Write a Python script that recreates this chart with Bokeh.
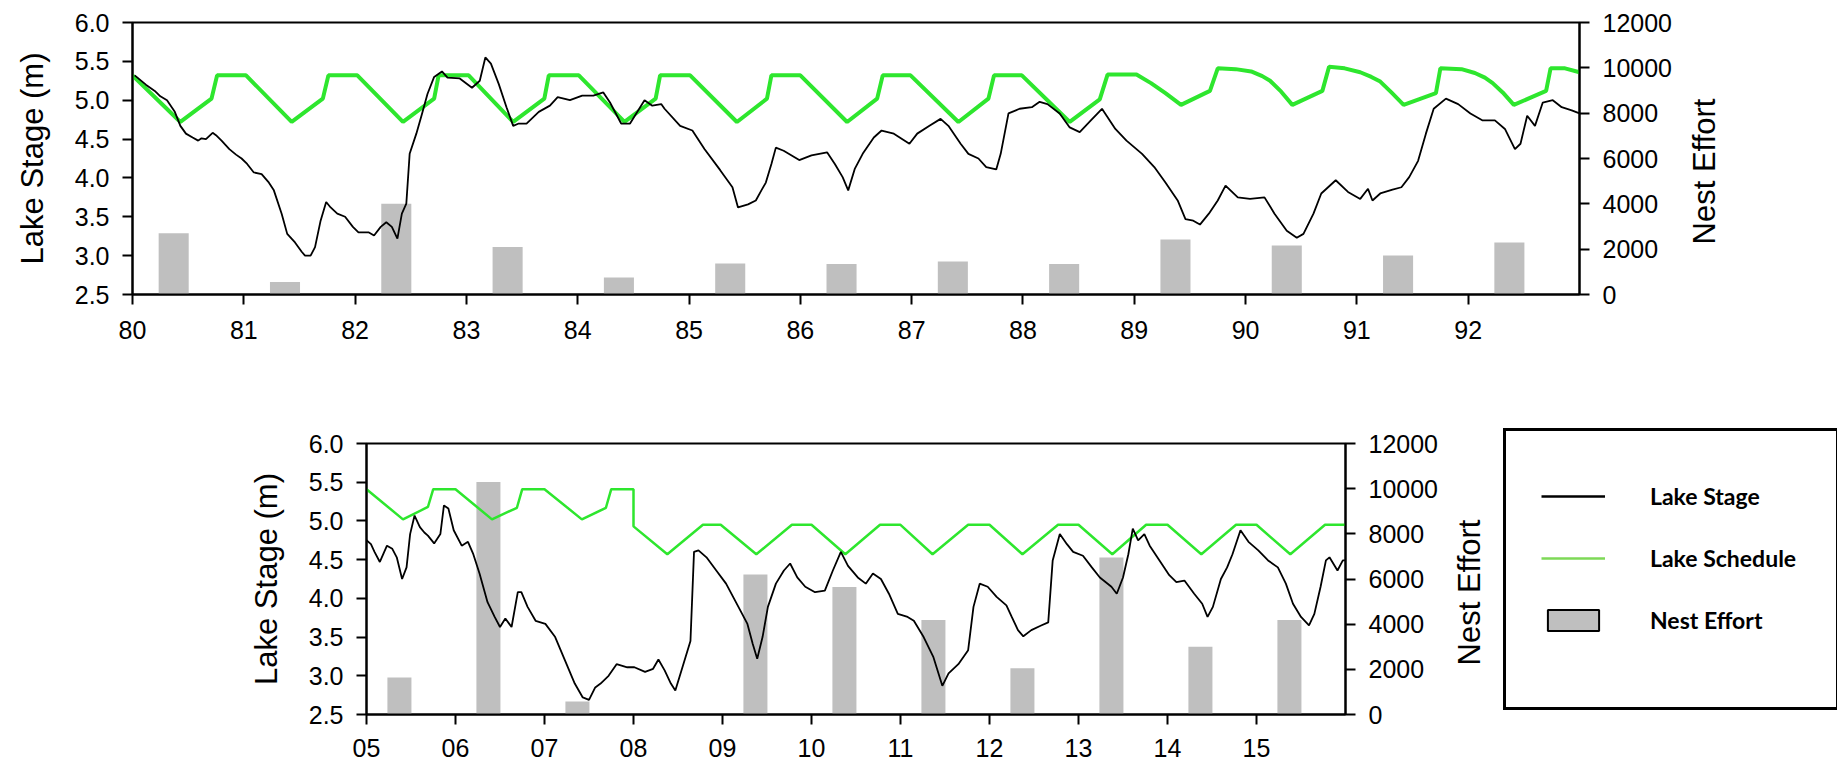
from bokeh.plotting import figure
from bokeh.layouts import column, row
from bokeh.models import (Range1d, LinearAxis, FixedTicker, PrintfTickFormatter,
                          Legend, LegendItem, Label)
from bokeh.embed import file_html
from bokeh.resources import INLINE
import math

# ---------------------------------------------------------------- data
# 1980-1992 record
top_stage_year = [
    1980.02, 1980.12, 1980.20, 1980.25, 1980.31, 1980.38, 1980.43, 1980.48, 1980.54, 1980.59,
    1980.62, 1980.66, 1980.72, 1980.75, 1980.80, 1980.87, 1980.93, 1980.98, 1981.03, 1981.09,
    1981.16, 1981.22, 1981.27, 1981.34, 1981.39, 1981.46, 1981.52, 1981.55, 1981.60, 1981.64,
    1981.69, 1981.74, 1981.78, 1981.84, 1981.91, 1981.98, 1982.03, 1982.12, 1982.17, 1982.23,
    1982.28, 1982.33, 1982.38, 1982.42, 1982.46, 1982.49, 1982.55, 1982.60, 1982.65, 1982.71,
    1982.78, 1982.83, 1982.94, 1983.05, 1983.12, 1983.17, 1983.22, 1983.29, 1983.36, 1983.42,
    1983.47, 1983.54, 1983.65, 1983.75, 1983.82, 1983.93, 1984.04, 1984.14, 1984.23, 1984.29,
    1984.39, 1984.47, 1984.60, 1984.67, 1984.75, 1984.78, 1984.92, 1985.03, 1985.14, 1985.28,
    1985.39, 1985.44, 1985.53, 1985.60, 1985.65, 1985.69, 1985.74, 1985.78, 1985.85, 1985.99,
    1986.10, 1986.24, 1986.31, 1986.38, 1986.43, 1986.49, 1986.56, 1986.66, 1986.73, 1986.84,
    1986.98, 1987.05, 1987.16, 1987.26, 1987.33, 1987.44, 1987.51, 1987.60, 1987.67, 1987.76,
    1987.80, 1987.87, 1987.97, 1988.08, 1988.15, 1988.22, 1988.33, 1988.42, 1988.51, 1988.61,
    1988.71, 1988.83, 1988.93, 1989.07, 1989.18, 1989.28, 1989.39, 1989.46, 1989.53, 1989.59,
    1989.67, 1989.75, 1989.82, 1989.93, 1990.04, 1990.17, 1990.26, 1990.37, 1990.46, 1990.52,
    1990.61, 1990.68, 1990.81, 1990.92, 1991.03, 1991.10, 1991.14, 1991.21, 1991.32, 1991.40,
    1991.47, 1991.55, 1991.62, 1991.69, 1991.80, 1991.91, 1992.02, 1992.13, 1992.24, 1992.33,
    1992.42, 1992.47, 1992.53, 1992.60, 1992.67, 1992.76, 1992.84, 1992.93, 1993.00,
]
top_stage_m = [
    5.32, 5.20, 5.12, 5.05, 5.00, 4.85, 4.67, 4.57, 4.52, 4.48,
    4.51, 4.50, 4.58, 4.55, 4.48, 4.37, 4.30, 4.25, 4.18, 4.07,
    4.05, 3.95, 3.84, 3.54, 3.28, 3.17, 3.05, 3.00, 3.00, 3.11,
    3.45, 3.69, 3.62, 3.54, 3.50, 3.37, 3.30, 3.30, 3.26, 3.37,
    3.43, 3.37, 3.22, 3.54, 3.67, 4.31, 4.57, 4.82, 5.08, 5.30,
    5.37, 5.29, 5.28, 5.16, 5.25, 5.55, 5.47, 5.21, 4.91, 4.67,
    4.70, 4.70, 4.85, 4.93, 5.04, 5.00, 5.06, 5.06, 5.10, 4.97,
    4.70, 4.70, 5.00, 4.93, 4.95, 4.89, 4.67, 4.61, 4.37, 4.10,
    3.88, 3.62, 3.66, 3.71, 3.84, 3.94, 4.18, 4.39, 4.35, 4.23,
    4.29, 4.33, 4.18, 4.01, 3.84, 4.12, 4.31, 4.52, 4.61, 4.57,
    4.44, 4.57, 4.67, 4.76, 4.67, 4.44, 4.31, 4.25, 4.14, 4.11,
    4.31, 4.83, 4.89, 4.91, 4.98, 4.95, 4.83, 4.65, 4.59, 4.74,
    4.89, 4.63, 4.48, 4.31, 4.14, 3.94, 3.71, 3.47, 3.45, 3.40,
    3.54, 3.71, 3.90, 3.75, 3.73, 3.75, 3.54, 3.32, 3.23, 3.28,
    3.54, 3.80, 3.97, 3.82, 3.73, 3.86, 3.71, 3.80, 3.85, 3.88,
    4.01, 4.22, 4.57, 4.89, 5.02, 4.95, 4.83, 4.74, 4.74, 4.63,
    4.37, 4.44, 4.80, 4.67, 4.97, 5.00, 4.91, 4.87, 4.83,
]
top_schedule_year = [
    1980.00, 1980.43, 1980.71, 1980.76, 1981.02, 1981.43, 1981.71, 1981.76,
    1982.02, 1982.43, 1982.71, 1982.75, 1983.02, 1983.42, 1983.70, 1983.74,
    1984.01, 1984.42, 1984.70, 1984.74, 1985.01, 1985.43, 1985.70, 1985.74,
    1986.00, 1986.42, 1986.69, 1986.74, 1986.99, 1987.42, 1987.69, 1987.74,
    1987.99, 1988.42, 1988.69, 1988.76, 1989.02, 1989.15, 1989.28, 1989.42,
    1989.68, 1989.75, 1989.91, 1990.05, 1990.15, 1990.22, 1990.32, 1990.42,
    1990.69, 1990.75, 1990.89, 1991.03, 1991.13, 1991.21, 1991.31, 1991.42,
    1991.71, 1991.75, 1991.94, 1992.06, 1992.15, 1992.22, 1992.31, 1992.41,
    1992.70, 1992.74, 1992.87, 1993.00,
]
top_schedule_m = [
    5.32, 4.72, 5.02, 5.32, 5.32, 4.72, 5.02, 5.32,
    5.32, 4.72, 5.02, 5.32, 5.32, 4.72, 5.02, 5.32,
    5.32, 4.72, 5.02, 5.32, 5.32, 4.72, 5.02, 5.32,
    5.32, 4.72, 5.02, 5.32, 5.32, 4.72, 5.02, 5.32,
    5.32, 4.72, 5.01, 5.33, 5.33, 5.22, 5.09, 4.94,
    5.12, 5.41, 5.40, 5.37, 5.31, 5.25, 5.11, 4.94,
    5.12, 5.43, 5.41, 5.36, 5.30, 5.24, 5.10, 4.94,
    5.09, 5.41, 5.40, 5.35, 5.29, 5.22, 5.10, 4.94,
    5.12, 5.41, 5.41, 5.36,
]
top_nest_year = [1980, 1981, 1982, 1983, 1984, 1985, 1986, 1987, 1988, 1989, 1990, 1991, 1992]
top_nest_effort = [2700, 550, 4000, 2100, 750, 1370, 1350, 1460, 1350, 2430, 2160, 1720, 2290]
top_tick_year = [1980, 1981, 1982, 1983, 1984, 1985, 1986, 1987, 1988, 1989, 1990, 1991, 1992]
top_tick_label = ["80", "81", "82", "83", "84", "85", "86", "87", "88", "89", "90", "91", "92"]

# 2005-2015 record
bottom_stage_year = [
    2005.00, 2005.05, 2005.09, 2005.15, 2005.23, 2005.29, 2005.34, 2005.40, 2005.45, 2005.49,
    2005.54, 2005.60, 2005.65, 2005.69, 2005.76, 2005.83, 2005.87, 2005.92, 2005.98, 2006.07,
    2006.14, 2006.20, 2006.27, 2006.36, 2006.44, 2006.50, 2006.56, 2006.63, 2006.70, 2006.74,
    2006.81, 2006.90, 2007.01, 2007.12, 2007.23, 2007.34, 2007.43, 2007.50, 2007.57, 2007.63,
    2007.72, 2007.81, 2007.93, 2008.01, 2008.13, 2008.22, 2008.28, 2008.35, 2008.42, 2008.47,
    2008.55, 2008.64, 2008.68, 2008.73, 2008.82, 2008.93, 2009.04, 2009.17, 2009.28, 2009.34,
    2009.39, 2009.45, 2009.51, 2009.60, 2009.69, 2009.76, 2009.84, 2009.93, 2010.04, 2010.15,
    2010.24, 2010.33, 2010.41, 2010.52, 2010.61, 2010.69, 2010.78, 2010.87, 2010.97, 2011.08,
    2011.15, 2011.26, 2011.37, 2011.47, 2011.54, 2011.65, 2011.76, 2011.82, 2011.89, 2011.98,
    2012.08, 2012.19, 2012.25, 2012.32, 2012.38, 2012.47, 2012.58, 2012.66, 2012.71, 2012.79,
    2012.87, 2012.94, 2013.05, 2013.15, 2013.24, 2013.37, 2013.43, 2013.50, 2013.56, 2013.61,
    2013.67, 2013.74, 2013.80, 2013.91, 2014.02, 2014.10, 2014.19, 2014.30, 2014.39, 2014.45,
    2014.51, 2014.60, 2014.67, 2014.73, 2014.82, 2014.91, 2015.02, 2015.13, 2015.24, 2015.33,
    2015.41, 2015.50, 2015.59, 2015.65, 2015.72, 2015.78, 2015.82, 2015.91, 2015.97, 2016.00,
]
bottom_stage_m = [
    4.75, 4.70, 4.60, 4.47, 4.68, 4.64, 4.53, 4.25, 4.40, 4.83,
    5.07, 4.92, 4.85, 4.81, 4.71, 4.83, 5.20, 5.16, 4.88, 4.68,
    4.73, 4.57, 4.32, 3.95, 3.76, 3.63, 3.74, 3.63, 4.08, 4.08,
    3.89, 3.71, 3.67, 3.50, 3.20, 2.90, 2.72, 2.69, 2.85, 2.90,
    3.00, 3.15, 3.11, 3.11, 3.05, 3.09, 3.21, 3.07, 2.90, 2.81,
    3.11, 3.45, 4.60, 4.62, 4.53, 4.36, 4.19, 3.91, 3.67, 3.41,
    3.22, 3.50, 3.89, 4.19, 4.36, 4.45, 4.27, 4.15, 4.08, 4.10,
    4.36, 4.60, 4.42, 4.27, 4.19, 4.32, 4.25, 4.06, 3.80, 3.76,
    3.71, 3.50, 3.24, 2.87, 3.03, 3.15, 3.33, 3.89, 4.19, 4.15,
    4.02, 3.91, 3.76, 3.59, 3.51, 3.59, 3.65, 3.69, 4.49, 4.83,
    4.70, 4.60, 4.55, 4.40, 4.27, 4.15, 4.06, 4.27, 4.57, 4.90,
    4.75, 4.83, 4.68, 4.49, 4.30, 4.21, 4.23, 4.06, 3.93, 3.76,
    3.89, 4.25, 4.40, 4.57, 4.88, 4.73, 4.62, 4.49, 4.40, 4.19,
    3.93, 3.76, 3.65, 3.80, 4.15, 4.49, 4.53, 4.36, 4.49, 4.49,
]
bottom_schedule_year = [
    2005.00, 2005.41, 2005.69, 2005.75, 2006.00, 2006.41, 2006.69, 2006.75,
    2007.00, 2007.42, 2007.69, 2007.75, 2008.00, 2008.00, 2008.38, 2008.78,
    2008.98, 2009.38, 2009.78, 2010.00, 2010.38, 2010.77, 2011.00, 2011.36,
    2011.76, 2012.00, 2012.37, 2012.77, 2013.00, 2013.38, 2013.76, 2014.00,
    2014.38, 2014.77, 2015.00, 2015.38, 2015.77, 2016.00,
]
bottom_schedule_m = [
    5.41, 5.02, 5.18, 5.41, 5.41, 5.02, 5.17, 5.41,
    5.41, 5.02, 5.17, 5.41, 5.41, 4.93, 4.57, 4.95,
    4.95, 4.57, 4.95, 4.95, 4.57, 4.95, 4.95, 4.57,
    4.95, 4.95, 4.57, 4.95, 4.95, 4.57, 4.95, 4.95,
    4.57, 4.95, 4.95, 4.57, 4.95, 4.95,
]
bottom_nest_year = [2005, 2006, 2007, 2009, 2010, 2011, 2012, 2013, 2014, 2015]
bottom_nest_effort = [1640, 10300, 575, 6200, 5650, 4180, 2050, 6950, 3000, 4180]
bottom_tick_year = [2005, 2006, 2007, 2008, 2009, 2010, 2011, 2012, 2013, 2014, 2015]
bottom_tick_label = ["05", "06", "07", "08", "09", "10", "11", "12", "13", "14", "15"]

stage_ticks = [2.5, 3.0, 3.5, 4.0, 4.5, 5.0, 5.5, 6.0]
effort_ticks = [0, 2000, 4000, 6000, 8000, 10000, 12000]

legend_labels = ["Lake Stage", "Lake Schedule", "Nest Effort"]

# ---------------------------------------------------------------- style
AXIS_FONT = "Liberation Sans"
GREEN = "#2ee62e"
KEY_GREEN = "#7ed957"
BAR_GREY = "#bfbfbf"
NEST_SEASON = 0.37   # nesting season sits in the spring of each year
BAR_WIDTH = 0.27
STAGE_LO, STAGE_HI = 2.5, 6.0


def style_axis(ax, ticks, formatter=None, overrides=None, standoff=13, label_standoff=20):
    ax.ticker = FixedTicker(ticks=ticks)
    if formatter is not None:
        ax.formatter = formatter
    if overrides is not None:
        ax.major_label_overrides = overrides
    ax.axis_line_color = "black"
    ax.axis_line_width = 2
    ax.major_tick_line_color = "black"
    ax.major_tick_line_width = 2
    ax.major_tick_out = 10
    ax.major_tick_in = 0
    ax.minor_tick_line_color = None
    ax.major_label_standoff = standoff
    ax.major_label_text_font = AXIS_FONT
    ax.major_label_text_font_size = "25px"
    ax.major_label_text_color = "black"
    ax.axis_label_standoff = label_standoff
    ax.axis_label_text_font = AXIS_FONT
    ax.axis_label_text_font_size = "31px"
    ax.axis_label_text_font_style = "normal"
    ax.axis_label_text_color = "black"


def blank(width, height, top, bottom, frame_h):
    """A plain drawing area measured in pixels from its frame's lower-left corner."""
    f = figure(width=width, height=height, output_backend="svg", toolbar_location=None,
               x_range=Range1d(0, width), y_range=Range1d(0, frame_h),
               min_border_left=0, min_border_right=0,
               min_border_top=top, min_border_bottom=bottom)
    f.axis.visible = False
    f.grid.visible = False
    f.outline_line_color = None
    f.background_fill_color = "white"
    f.border_fill_color = "white"
    return f


def side_title(f, x, y):
    f.add_layout(Label(x=x, y=y, text="Nest Effort", angle=math.pi / 2,
                       text_align="center", text_baseline="middle",
                       text_font=AXIS_FONT, text_font_size="31px", text_color="black"))


def panel(width, height, borders, x_end, tick_year, tick_label,
          stage_year, stage_m, sched_year, sched_m, nest_year, nest_effort,
          sched_width, x_label_standoff):
    left, right, top, bottom = borders
    p = figure(width=width, height=height, output_backend="svg", toolbar_location=None,
               x_range=Range1d(tick_year[0], x_end), y_range=Range1d(STAGE_LO, STAGE_HI),
               min_border_left=left, min_border_right=right,
               min_border_top=top, min_border_bottom=bottom)
    p.extra_y_ranges = {"nest": Range1d(0, 12000)}
    p.xgrid.visible = False
    p.ygrid.visible = False
    p.outline_line_color = "black"
    p.outline_line_width = 2
    p.outline_line_alpha = 1.0
    p.background_fill_color = "white"
    p.border_fill_color = "white"

    p.vbar(x=[y + NEST_SEASON for y in nest_year], top=nest_effort, bottom=0,
           width=BAR_WIDTH, y_range_name="nest", fill_color=BAR_GREY, line_color=None)
    p.line(sched_year, sched_m, line_color=GREEN, line_width=sched_width)
    p.line(stage_year, stage_m, line_color="black", line_width=1.8)

    style_axis(p.xaxis[0], tick_year,
               overrides={y: t for y, t in zip(tick_year, tick_label)},
               standoff=x_label_standoff)
    p.yaxis[0].axis_label = "Lake Stage (m)"
    style_axis(p.yaxis[0], stage_ticks, PrintfTickFormatter(format="%.1f"), label_standoff=22)

    nest_axis = LinearAxis(y_range_name="nest")
    style_axis(nest_axis, effort_ticks, PrintfTickFormatter(format="%d"))
    p.add_layout(nest_axis, "right")
    return p


# ---------------------------------------------------------------- upper panel
top = panel(1679, 400, (132, 100, 22, 106), 1993.0, top_tick_year, top_tick_label,
            top_stage_year, top_stage_m, top_schedule_year, top_schedule_m,
            top_nest_year, top_nest_effort, sched_width=4, x_label_standoff=16)
top_side = blank(158, 400, 22, 106, 272)
side_title(top_side, 25, 123)

# ---------------------------------------------------------------- lower panel
bottom = panel(1445, 365, (366, 100, 43, 51), 2016.0, bottom_tick_year, bottom_tick_label,
               bottom_stage_year, bottom_stage_m, bottom_schedule_year, bottom_schedule_m,
               bottom_nest_year, bottom_nest_effort, sched_width=2.5, x_label_standoff=14)

# the key area spans the full height of the lower row
key = blank(392, 365, 0, 0, 365)
side_title(key, 24, 173)

# legend swatches: hidden copies of the series carrying the key's own styling
stage_key = key.line(bottom_stage_year, bottom_stage_m, line_color="black",
                     line_width=2.5, visible=False)
sched_key = key.line(bottom_schedule_year, bottom_schedule_m, line_color=KEY_GREEN,
                     line_width=2.5, visible=False)
nest_key = key.vbar(x=bottom_nest_year, top=bottom_nest_effort, width=BAR_WIDTH,
                    fill_color=BAR_GREY, line_color="black", line_width=2, visible=False)

legend = Legend(
    items=[LegendItem(label=legend_labels[0], renderers=[stage_key]),
           LegendItem(label=legend_labels[1], renderers=[sched_key]),
           LegendItem(label=legend_labels[2], renderers=[nest_key])],
    location=(58, 55), orientation="vertical",
    glyph_width=64, glyph_height=26, label_height=60, label_width=151,
    spacing=2, padding=35, margin=0,
    label_standoff=45, label_text_font="Lato", label_text_font_style="bold",
    label_text_font_size="23px", label_text_color="black",
    title=" ", title_location="below", title_text_font_size="14px", title_standoff=6,
    border_line_color="black", border_line_width=3, border_line_alpha=1.0,
    background_fill_color="white", background_fill_alpha=1.0,
)
key.add_layout(legend, "center")

page = column(row(top, top_side), row(bottom, column(key)))
open("out.html", "w").write(file_html(page, INLINE, title="Lake Stage and Nest Effort"))
